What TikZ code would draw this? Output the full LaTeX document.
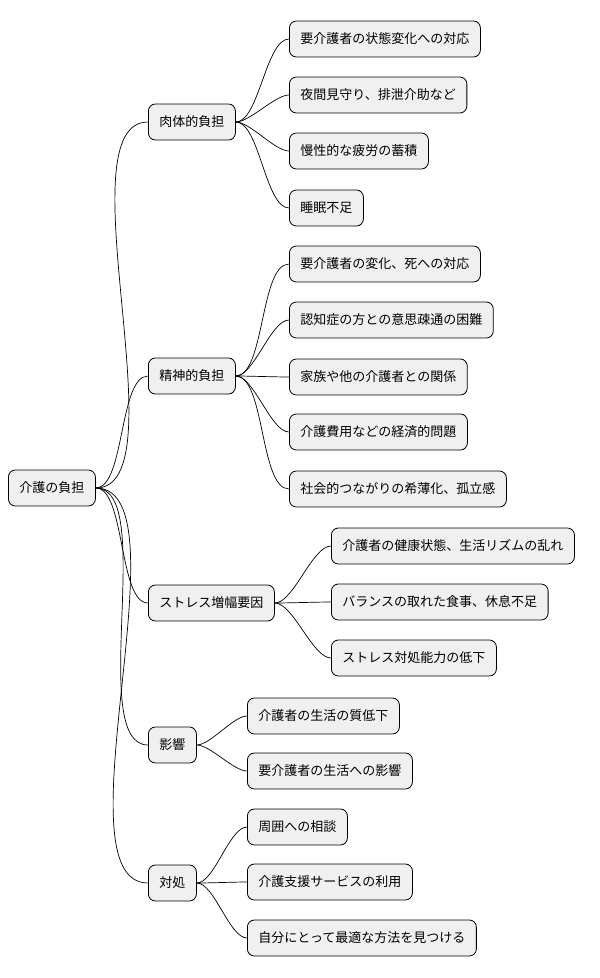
\documentclass[tikz,border=0pt]{standalone}
\usepackage{fontspec}
\newfontfamily\cjk{Noto Sans CJK JP}
\usetikzlibrary{positioning}
\tikzset{
  topic/.style={draw=black, fill=black!6, rounded corners=7pt, line width=0.8pt,
    minimum height=36pt, inner xsep=11pt, anchor=west,
    font=\cjk\fontsize{13}{16}\selectfont},
  branch/.style={draw=black, line width=0.7pt}
}
\begin{document}
\begin{tikzpicture}[x=1pt, y=-1pt]
	\useasboundingbox (0,0) rectangle (600,978);
	\begin{scope}
		\node[topic] (root) at (8, 488) {介護の負担};

		\node[topic] (body) at (148, 122) {肉体的負担};
		\node[topic] (mind) at (148, 376) {精神的負担};
		\node[topic] (stress) at (148, 603) {ストレス増幅要因};
		\node[topic] (effect) at (148, 745) {影響};
		\node[topic] (cope) at (148, 883) {対処};

		\node[topic] (b1) at (289, 39) {要介護者の状態変化への対応};
		\node[topic] (b2) at (289, 95) {夜間見守り、排泄介助など};
		\node[topic] (b3) at (289, 151) {慢性的な疲労の蓄積};
		\node[topic] (b4) at (289, 208) {睡眠不足};

		\node[topic] (m1) at (289, 264) {要介護者の変化、死への対応};
		\node[topic] (m2) at (289, 320) {認知症の方との意思疎通の困難};
		\node[topic] (m3) at (289, 377) {家族や他の介護者との関係};
		\node[topic] (m4) at (289, 432) {介護費用などの経済的問題};
		\node[topic] (m5) at (289, 489) {社会的つながりの希薄化、孤立感};

		\node[topic] (s1) at (331, 546) {介護者の健康状態、生活リズムの乱れ};
		\node[topic] (s2) at (331, 602) {バランスの取れた食事、休息不足};
		\node[topic] (s3) at (331, 658) {ストレス対処能力の低下};

		\node[topic] (e1) at (247, 716) {介護者の生活の質低下};
		\node[topic] (e2) at (247, 771) {要介護者の生活への影響};

		\node[topic] (c1) at (247, 827) {周囲への相談};
		\node[topic] (c2) at (247, 882) {介護支援サービスの利用};
		\node[topic] (c3) at (247, 938) {自分にとって最適な方法を見つける};

		\foreach \kid in {body, mind, stress, effect, cope}
			\draw[branch] (root.east) to[out=0, in=180, looseness=0.6] (\kid.west);
		\foreach \kid in {b1, b2, b3, b4}
			\draw[branch] (body.east) to[out=0, in=180, looseness=0.6] (\kid.west);
		\foreach \kid in {m1, m2, m3, m4, m5}
			\draw[branch] (mind.east) to[out=0, in=180, looseness=0.6] (\kid.west);
		\foreach \kid in {s1, s2, s3}
			\draw[branch] (stress.east) to[out=0, in=180, looseness=0.6] (\kid.west);
		\foreach \kid in {e1, e2}
			\draw[branch] (effect.east) to[out=0, in=180, looseness=0.6] (\kid.west);
		\foreach \kid in {c1, c2, c3}
			\draw[branch] (cope.east) to[out=0, in=180, looseness=0.6] (\kid.west);
	\end{scope}
\end{tikzpicture}
\end{document}
